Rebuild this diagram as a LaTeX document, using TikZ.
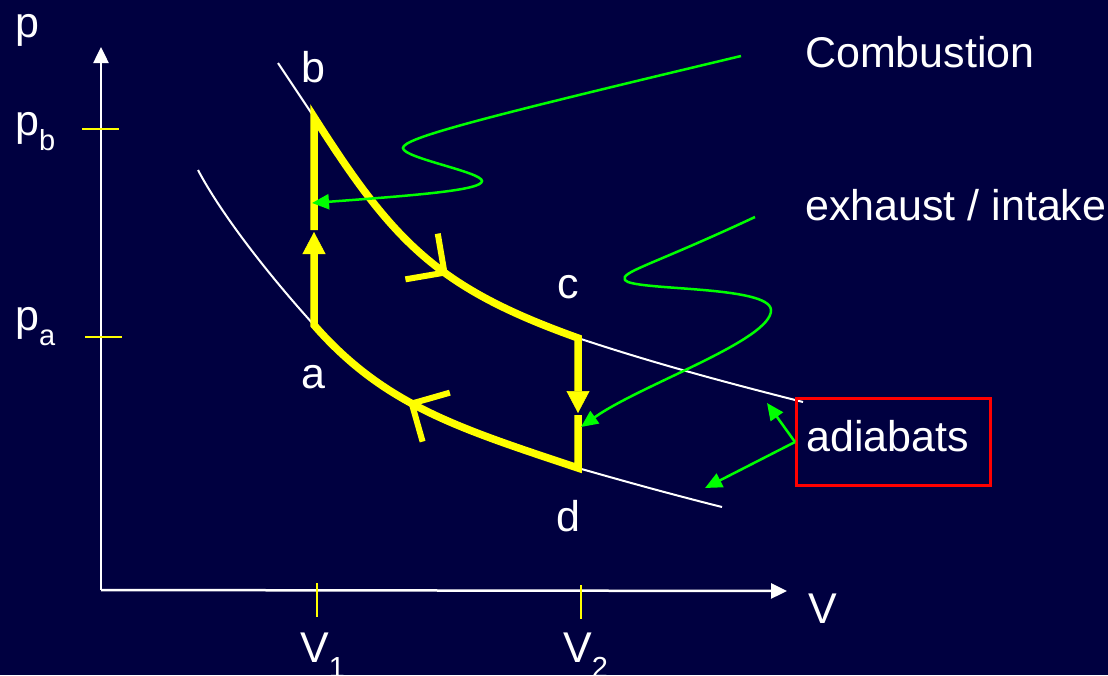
\documentclass[tikz,border=0pt]{standalone}
\usepackage{fontspec}
\setmainfont{Liberation Sans}
\usetikzlibrary{arrows.meta,decorations.markings}
\definecolor{slide}{HTML}{000040}
\definecolor{hiyellow}{HTML}{FFFF00}
\definecolor{pointer}{HTML}{00FF00}
\definecolor{boxred}{HTML}{FF0000}
\newcommand{\slidefont}{\fontsize{43}{50}\selectfont}
\newcommand{\subs}[1]{\raisebox{-15pt}{\fontsize{29}{32}\selectfont #1}}

\begin{document}
\begin{tikzpicture}[x=1pt, y=-1pt, line join=miter,
  txt/.style={text=white, font=\slidefont, inner sep=0pt},
  axis/.style={draw=white, line width=2.5pt},
  tick/.style={draw=hiyellow, line width=2.5pt},
  adiabat/.style={draw=white, line width=2pt},
  cyc/.style={draw=hiyellow, line width=7.5pt},
  ptr/.style={draw=pointer, line width=2.5pt, -{Triangle[length=17pt,width=15pt]}},
  flow/.style={postaction={decorate}, decoration={markings,
    mark=at position #1 with {\arrow[hiyellow]{Straight Barb[length=28pt,width=56pt,line width=6pt]}}}}]

\useasboundingbox (0,0) rectangle (1108,675);
\fill[slide] (0,0) rectangle (1108,675);

% ================= axes =================
\coordinate (O) at (101,590);
\coordinate (ytop) at (101,47);
\coordinate (xtip) at (787,591);
\draw[axis, -{Triangle[length=16pt,width=15pt]}] (O) -- (ytop);
\draw[axis, -{Triangle[length=16pt,width=15pt]}] (O) -- (xtip);

\draw[tick] (82,129) -- (119,129);
\draw[tick] (85,337) -- (122,337);
\draw[tick] (317,583) -- (317,617);
\draw[tick] (581,585) -- (581,619);

\node[txt, anchor=base west] (lp)  at (15,37)  {p};
\node[txt, anchor=base west] (lpb) at (15,135) {p\subs{b}};
\node[txt, anchor=base west] (lpa) at (15,330) {p\subs{a}};
\node[txt, anchor=base west] (lV)  at (808,623) {V};
\node[txt, anchor=base west] (lV1) at (300,662) {V\subs{1}};
\node[txt, anchor=base west] (lV2) at (563,662) {V\subs{2}};

% ================= the cycle =================
\coordinate (a) at (314,325);
\coordinate (b) at (314,117);
\coordinate (c) at (578,338);
\coordinate (d) at (578,468);
\coordinate (bgap) at (314,230);
\coordinate (atip) at (314,232);
\coordinate (dtip) at (578,413);
\coordinate (dgap) at (578,415);

% adiabats outside the cycle
\draw[adiabat] (278,63) -- (b);
\draw[adiabat] (c) .. controls (650,362) and (720,381) .. (803,402);
\draw[adiabat] (198,170) .. controls (220,212) and (266,272) .. (a);
\draw[adiabat] (d) .. controls (620,480) and (670,494) .. (722,507);

% combustion, expansion, exhaust / intake, compression
\draw[cyc, -{Triangle[length=22pt,width=23pt,line width=0.5pt]}]
  (bgap) -- (b) .. controls (394,243) and (438,288) .. (c) -- (dtip);
\draw[cyc, -{Triangle[length=22pt,width=23pt,line width=0.5pt]}]
  (dgap) -- (d) .. controls (458,428) and (384,405) .. (a) -- (atip);
\path[flow=0.59] (b) .. controls (394,243) and (438,288) .. (c);
\path[flow=0.6] (d) .. controls (458,428) and (384,405) .. (a);

\node[txt, anchor=base] (la) at (313,388) {a};
\node[txt, anchor=base] (lb) at (313,82)  {b};
\node[txt, anchor=base] (lc) at (568,298) {c};
\node[txt, anchor=base] (ld) at (568,531) {d};

% ================= annotations =================
\node[txt, anchor=base west] (comb) at (805,67)  {Combustion};
\node[txt, anchor=base west] (exh)  at (805,220) {exhaust / intake};
\node[txt, draw=boxred, line width=3pt, minimum width=194pt, minimum height=87pt,
  text width=174pt, inner xsep=10pt, text depth=13pt, align=left]
  (adiabox) at (893.5,442) {adiabats};

\coordinate (combtail) at (741,56);
\coordinate (burn) at (312,203);
\coordinate (exhtail) at (755,217);
\coordinate (dump) at (581,427);
\coordinate (adup) at (767,403);
\coordinate (adlo) at (705,488);

\draw[ptr] (combtail) .. controls (481,118) and (403,138) .. (403,148)
  .. controls (403,158) and (482,172) .. (482,181)
  .. controls (482,190) and (420,195) .. (burn);
\draw[ptr] (exhtail) .. controls (650,266) and (620,272) .. (625,280)
  .. controls (632,291) and (770,285) .. (771,310)
  .. controls (772,340) and (640,385) .. (dump);
\draw[ptr] (adiabox.west) -- (adup);
\draw[ptr] (adiabox.west) -- (adlo);

\end{tikzpicture}
\end{document}
